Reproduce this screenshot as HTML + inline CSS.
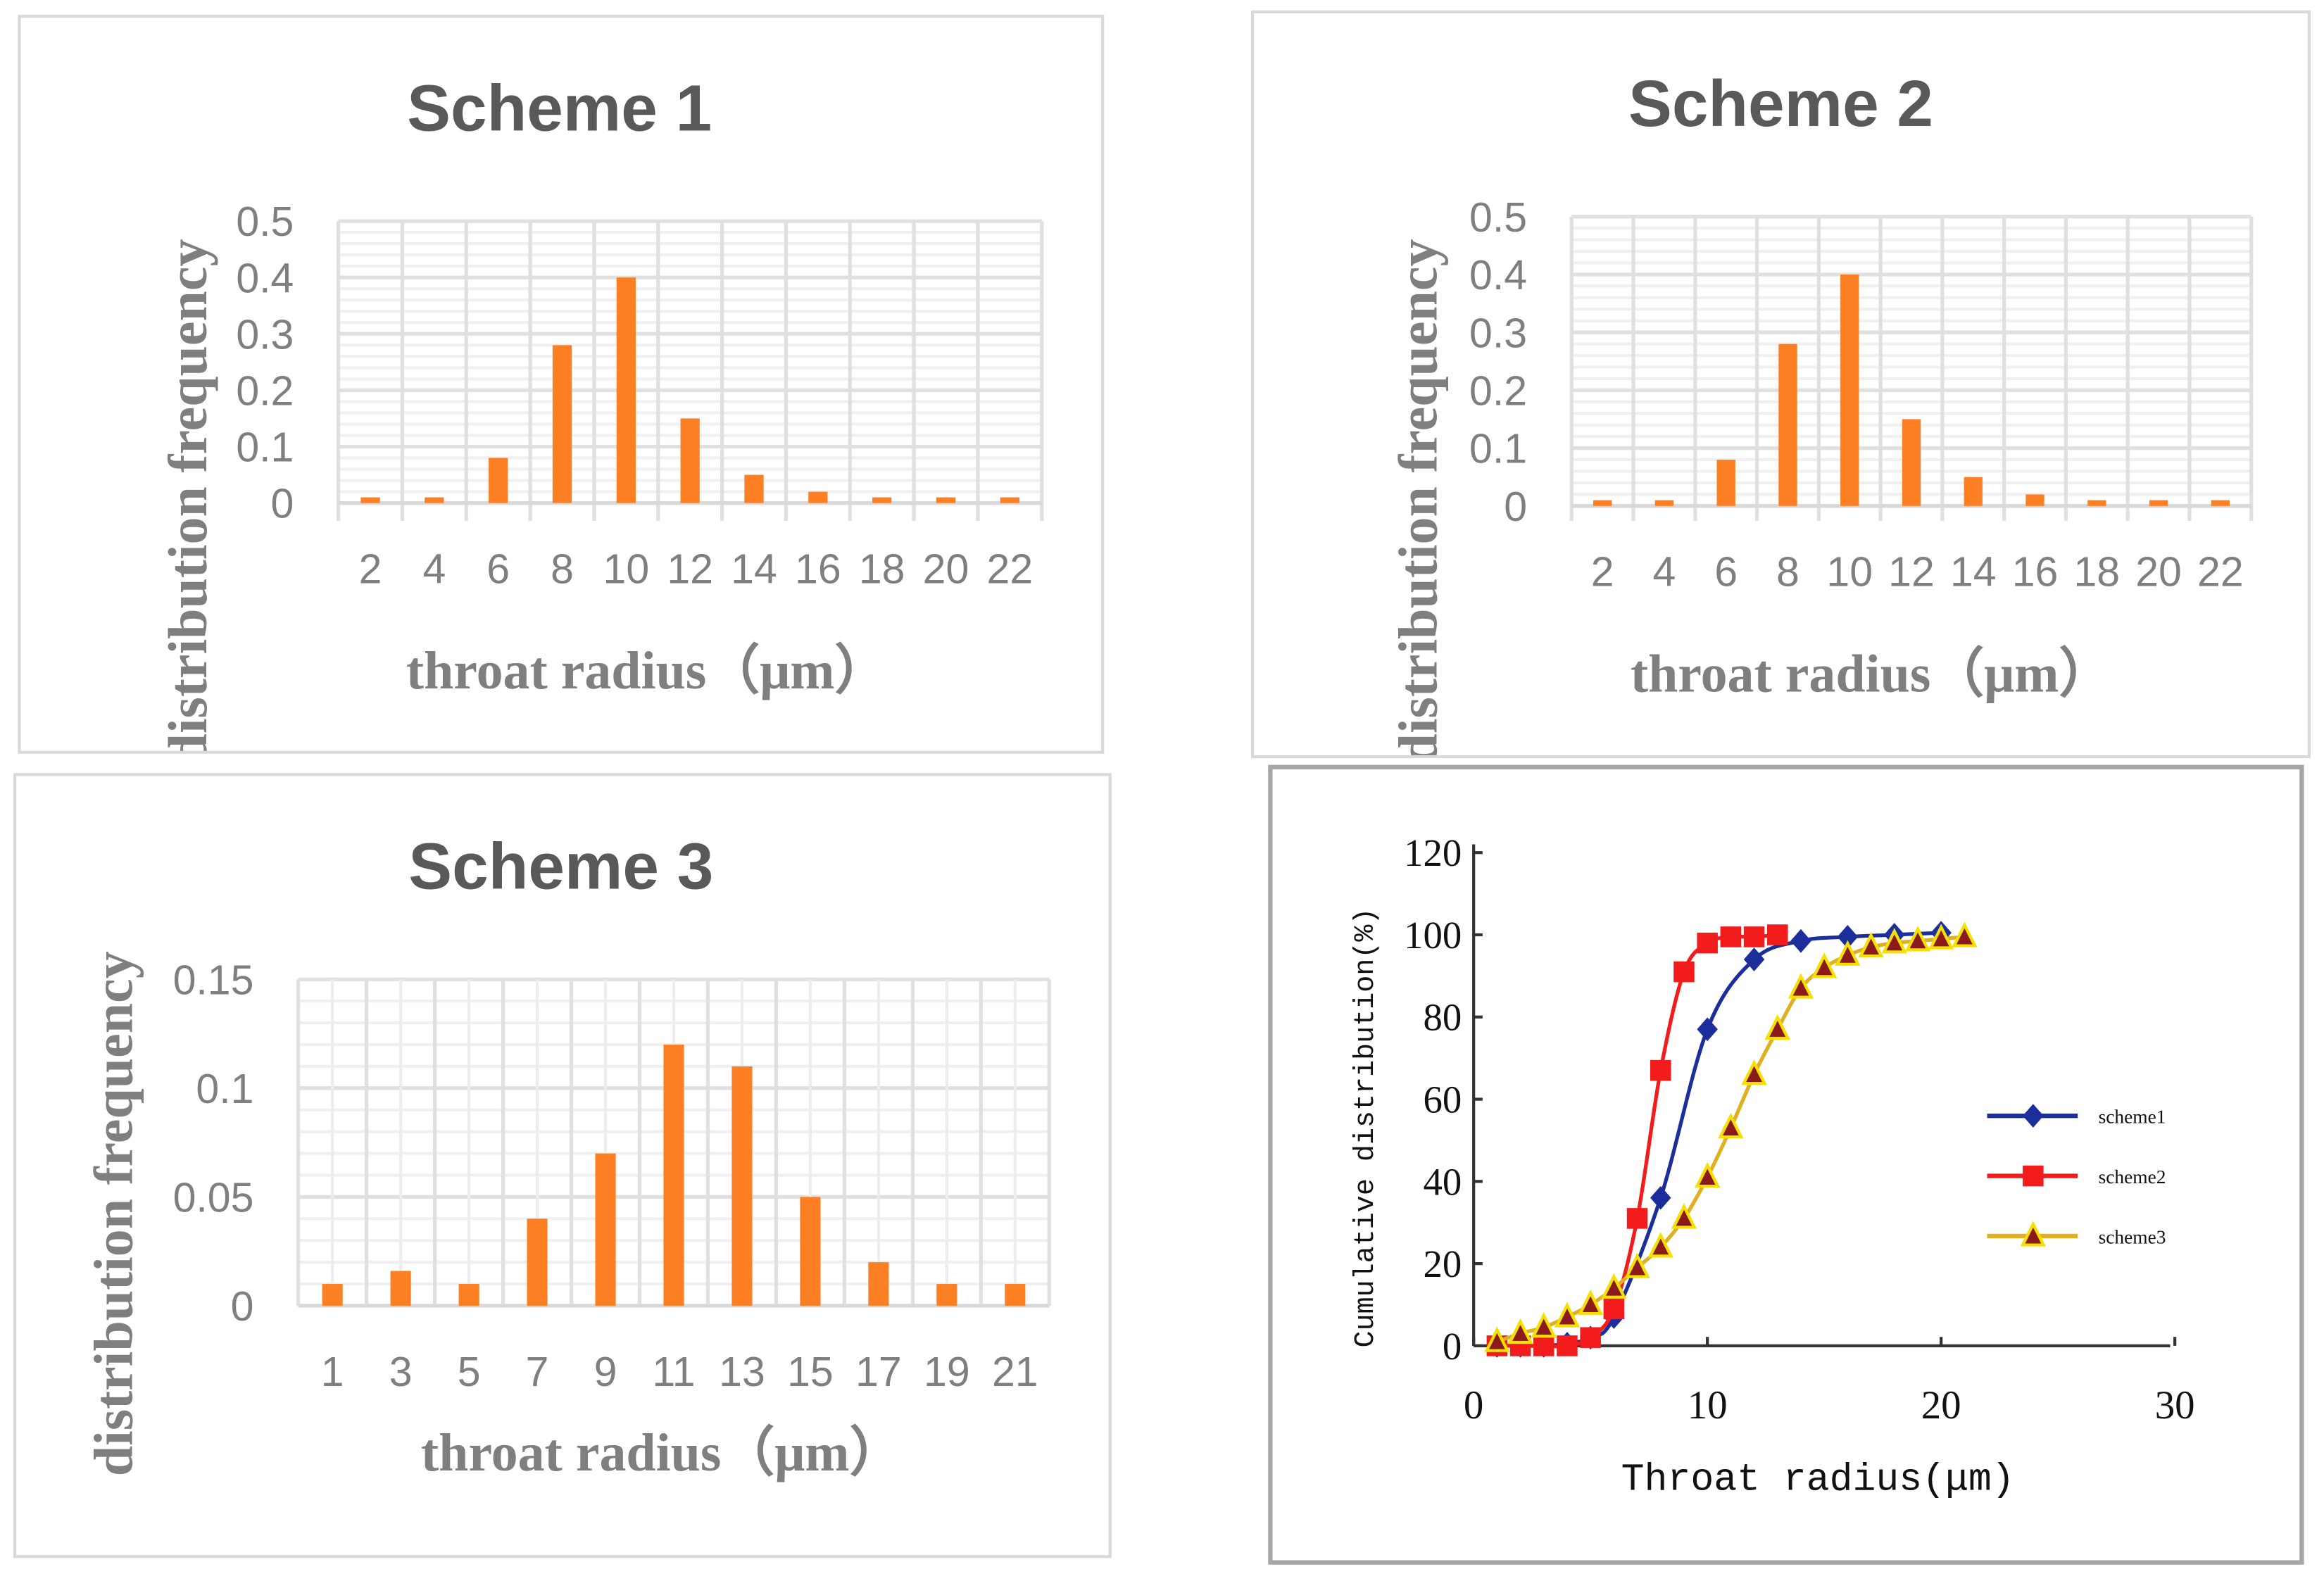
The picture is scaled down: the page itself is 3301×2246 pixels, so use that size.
<!DOCTYPE html>
<html><head><meta charset="utf-8">
<style>
html,body{margin:0;padding:0;background:#fff;}
svg{display:block;}
.title{font-family:"Liberation Sans",sans-serif;font-weight:bold;fill:#595959;}
.tick{font-family:"Liberation Sans",sans-serif;fill:#7f7f7f;}
.atitle{font-family:"Liberation Serif",serif;font-weight:bold;fill:#7f7f7f;}
.ser{font-family:"Liberation Serif",serif;fill:#111;}
.mono{font-family:"Liberation Mono",monospace;fill:#111;}
</style></head>
<body>
<svg id="fig" width="3301" height="2246" viewBox="0 0 1566 1065.5">
<defs>
<clipPath id="clip1"><rect x="14" y="12" width="728" height="494"/></clipPath>
<clipPath id="clip2"><rect x="845" y="9" width="710" height="500"/></clipPath>
</defs>
<rect x="13" y="11" width="730" height="496" fill="#fff" stroke="#d9d9d9" stroke-width="2"/>
<rect x="844" y="8" width="712" height="502" fill="#fff" stroke="#d9d9d9" stroke-width="2"/>
<rect x="10" y="522" width="738" height="527" fill="#fff" stroke="#d9d9d9" stroke-width="2"/>
<rect x="856" y="517" width="695" height="536" fill="#fff" stroke="#a6a6a6" stroke-width="3"/>
<g id="g1" clip-path="url(#clip1)"></g>
<g id="g2" clip-path="url(#clip2)"></g>
<g id="g3"></g>
<g id="g4"></g>
</svg>
<script>
// Scheme 1 data
const s1Categories = ["2","4","6","8","10","12","14","16","18","20","22"];
const s1Values = [0.01,0.01,0.08,0.28,0.40,0.15,0.05,0.02,0.01,0.01,0.01];
const s1Ticks = ["0","0.1","0.2","0.3","0.4","0.5"];
// Scheme 2 data
const s2Categories = ["2","4","6","8","10","12","14","16","18","20","22"];
const s2Values = [0.01,0.01,0.08,0.28,0.40,0.15,0.05,0.02,0.01,0.01,0.01];
const s2Ticks = ["0","0.1","0.2","0.3","0.4","0.5"];
// Scheme 3 data
const s3Categories = ["1","3","5","7","9","11","13","15","17","19","21"];
const s3Values = [0.01,0.016,0.01,0.04,0.07,0.12,0.11,0.05,0.02,0.01,0.01];
const s3Ticks = ["0","0.05","0.1","0.15"];
// Cumulative chart data
const cumXTicks = ["0","10","20","30"];
const cumYTicks = ["0","20","40","60","80","100","120"];
const scheme1X = [1,2,3,4,5,6,8,10,12,14,16,18,20];
const scheme1Y = [0,0,0,0.5,2,7,36,77,94,98.5,99.5,100,100.5];
const scheme2X = [1,2,3,4,5,6,7,8,9,10,11,12,13];
const scheme2Y = [0,0,0,0,2,9,31,67,91,98,99.5,99.5,100];
const scheme3X = [1,2,3,4,5,6,7,8,9,10,11,12,13,14,15,16,17,18,19,20,21];
const scheme3Y = [1,3,4.5,7,10,14,19,24,31,41,53,66,77,87,92,95,97,98,98.5,99,99.5];

const NS="http://www.w3.org/2000/svg";
function mk(parent,tag,attrs,text){const e=document.createElementNS(NS,tag);for(const k in attrs)e.setAttribute(k,attrs[k]);if(text!==undefined)e.textContent=text;parent.appendChild(e);return e;}

function barChart(g,cfg,cats,vals,ticks){
  const {x0,x1,y0,y1,max,minor,centerGrid,name}=cfg;
  const ys=v=>y0-(v/max)*(y0-y1);
  const n=cats.length, cw=(x1-x0)/n;
  for(let v=0;v<=max+1e-9;v+=minor){
    const l=mk(g,'line',{x1:x0,x2:x1,y1:ys(v),y2:ys(v),stroke:'#f0f0f0','stroke-width':2});
    
    
  }
  ticks.forEach(t=>{const v=parseFloat(t);
    const l=mk(g,'line',{x1:x0,x2:x1,y1:ys(v),y2:ys(v),stroke:'#e0e0e0','stroke-width':2.5});
    
    
    const tx=mk(g,'text',{x:x0-30,y:ys(v)+10,'text-anchor':'end','font-size':28,class:'tick'},t);
    
    
  });
  for(let i=0;i<=n;i++){
    const l=mk(g,'line',{x1:x0+i*cw,x2:x0+i*cw,y1:y1,y2:y0+(cfg.tickDown||0),stroke:'#e0e0e0','stroke-width':2.5});
    
    
    if(centerGrid&&i<n){const c=mk(g,'line',{x1:x0+(i+.5)*cw,x2:x0+(i+.5)*cw,y1:y1,y2:y0,stroke:'#ededed','stroke-width':2});
      
      }
  }
  const ax=mk(g,'line',{x1:x0,x2:x1,y1:y0,y2:y0,stroke:'#d9d9d9','stroke-width':2.5});
  
  
  cats.forEach((c,i)=>{
    const cx=x0+(i+.5)*cw, bw=cw*0.3;
    const b=mk(g,'rect',{x:cx-bw/2,y:ys(vals[i]),width:bw,height:y0-ys(vals[i]),fill:'#fd7f23'});
    
    
    const t=mk(g,'text',{x:cx,y:cfg.labelY,'text-anchor':'middle','font-size':28,class:'tick'},c);
    
    
  });
  const ti=mk(g,'text',{x:cfg.titleX,y:cfg.titleY,'text-anchor':'middle','font-size':44,class:'title'},name);
  
  
  const xt=mk(g,'text',{x:cfg.xtX,y:cfg.xtY,'text-anchor':'middle','font-size':36,class:'atitle'},'throat radius（μm）');
  
  
  const yt=mk(g,'text',{x:0,y:0,'text-anchor':'middle','font-size':37,class:'atitle',transform:`translate(${cfg.ytX},${cfg.ytY}) rotate(-90)`},'distribution frequency');
  
  
}

barChart(document.getElementById('g1'),{x0:228,x1:702,y0:339,y1:149,max:0.5,minor:0.02,tickDown:12,labelY:393,titleX:377,titleY:88,xtX:436,xtY:464,ytX:139,ytY:338,name:'Scheme 1'},s1Categories,s1Values,s1Ticks);
barChart(document.getElementById('g2'),{x0:1059,x1:1517,y0:341,y1:146,max:0.5,minor:0.02,tickDown:10,labelY:395,titleX:1200,titleY:85,xtX:1261,xtY:466,ytX:968,ytY:338,name:'Scheme 2'},s2Categories,s2Values,s2Ticks);
barChart(document.getElementById('g3'),{x0:201,x1:707,y0:880,y1:660,max:0.15,minor:0.01,centerGrid:true,labelY:934,titleX:378,titleY:599,xtX:446,xtY:991,ytX:89,ytY:818,name:'Scheme 3'},s3Categories,s3Values,s3Ticks);

// cumulative chart
(function(){
  const g=document.getElementById('g4');
  const X0=993,XU=15.75,Y0=907,YU=2.77;
  const xs=v=>X0+v*XU, ys=v=>Y0-v*YU;
  const a1=mk(g,'line',{x1:X0,x2:X0,y1:ys(122),y2:Y0,stroke:'#333','stroke-width':2});
  
  
  const a2=mk(g,'line',{x1:X0,x2:xs(29.8),y1:Y0,y2:Y0,stroke:'#333','stroke-width':2});
  
  
  cumYTicks.forEach(t=>{const v=+t;
    mk(g,'line',{x1:X0,x2:X0+6,y1:ys(v),y2:ys(v),stroke:'#333','stroke-width':2});
    const tx=mk(g,'text',{x:X0-8,y:ys(v)+9,'text-anchor':'end','font-size':26,class:'ser'},t);
    
    
  });
  cumXTicks.forEach(t=>{const v=+t;
    mk(g,'line',{x1:xs(v),x2:xs(v),y1:Y0,y2:Y0-6,stroke:'#333','stroke-width':2});
    const tx=mk(g,'text',{x:xs(v),y:Y0+49,'text-anchor':'middle','font-size':27,class:'ser'},t);
    
    
  });
  const xt=mk(g,'text',{x:1225,y:1004,'text-anchor':'middle','font-size':26,class:'mono'},'Throat radius(μm)');
  
  
  const yt=mk(g,'text',{x:0,y:0,'text-anchor':'middle','font-size':19,class:'mono',transform:'translate(925,760) rotate(-90)'},'Cumulative distribution(%)');
  
  
  function smooth(px,py){
    const p=px.map((x,i)=>[xs(x),ys(py[i])]);
    let d=`M${p[0][0]},${p[0][1]}`;
    for(let i=0;i<p.length-1;i++){
      const p0=p[i-1]||p[i],p1=p[i],p2=p[i+1],p3=p[i+2]||p2;
      d+=` C${p1[0]+(p2[0]-p0[0])/6},${p1[1]+(p2[1]-p0[1])/6} ${p2[0]-(p3[0]-p1[0])/6},${p2[1]-(p3[1]-p1[1])/6} ${p2[0]},${p2[1]}`;
    }
    return d;
  }
  function marker(parent,type,x,y,col,edge){
    if(type==='d') return mk(parent,'polygon',{points:`${x},${y-8} ${x+7},${y} ${x},${y+8} ${x-7},${y}`,fill:col});
    if(type==='s') return mk(parent,'rect',{x:x-7,y:y-7,width:14,height:14,fill:col});
    return mk(parent,'polygon',{points:`${x},${y-8} ${x+7},${y+6} ${x-7},${y+6}`,fill:'#8b1a1a',stroke:edge,'stroke-width':2});
  }
  const series=[
    {name:'scheme1',xs:scheme1X,ys:scheme1Y,col:'#1c2e9c',m:'d'},
    {name:'scheme2',xs:scheme2X,ys:scheme2Y,col:'#f21c1c',m:'s'},
    {name:'scheme3',xs:scheme3X,ys:scheme3Y,col:'#e0b020',m:'t'}
  ];
  series.forEach((s,k)=>{
    const sg=mk(g,'g',{});
    
    
    const ln=mk(sg,'path',{d:smooth(s.xs,s.ys),fill:'none',stroke:s.col,'stroke-width':2.5});
    
    
    s.xs.forEach((x,i)=>{
      const m=marker(sg,s.m,xs(x),ys(s.ys[i]),s.col,'#f5e000');
      
      
    });
    const ly=752+k*40.5;
    const lg=mk(g,'g',{});
    
    
    mk(lg,'line',{x1:1339,x2:1400,y1:ly,y2:ly,stroke:s.col,'stroke-width':3});
    marker(lg,s.m,1370,ly,s.col,'#f5e000');
    mk(lg,'text',{x:1414,y:ly+5,'font-size':13,class:'ser'},s.name);
  });
})();
</script>
</body></html>
